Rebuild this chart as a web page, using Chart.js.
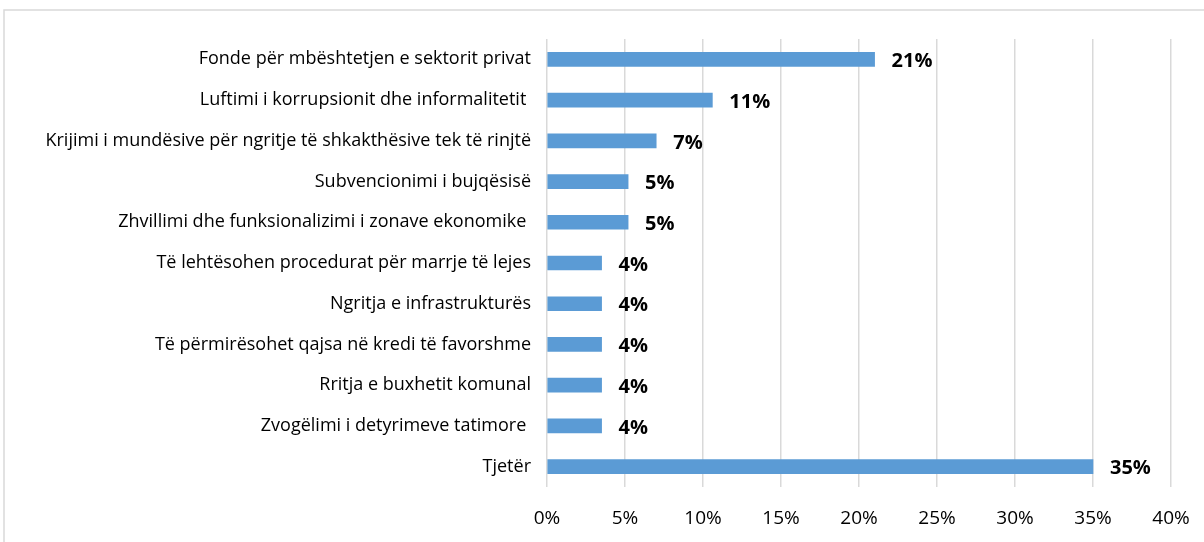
<!DOCTYPE html>
<html>
<head>
<meta charset="utf-8">
<script src="https://cdn.jsdelivr.net/npm/chart.js@4"></script>
<style>
html,body{margin:0;padding:0;background:#fff;}
#wrap{position:relative;width:1204px;height:542px;}
</style>
</head>
<body>
<div id="wrap"><canvas id="c" width="1204" height="542"></canvas></div>
<script>
const categories = [
  "Fonde për mbështetjen e sektorit privat",
  "Luftimi i korrupsionit dhe informalitetit ",
  "Krijimi i mundësive për ngritje të shkakthësive tek të rinjtë",
  "Subvencionimi i bujqësisë",
  "Zhvillimi dhe funksionalizimi i zonave ekonomike ",
  "Të lehtësohen procedurat për marrje të lejes",
  "Ngritja e infrastrukturës",
  "Të përmirësohet qajsa në kredi të favorshme",
  "Rritja e buxhetit komunal",
  "Zvogëlimi i detyrimeve tatimore ",
  "Tjetër"
];
const values = [21.0, 10.6, 7.0, 5.2, 5.2, 3.5, 3.5, 3.5, 3.5, 3.5, 35.0];
const valueLabels = ["21%", "11%", "7%", "5%", "5%", "4%", "4%", "4%", "4%", "4%", "35%"];
const tickValues = [0, 5, 10, 15, 20, 25, 30, 35, 40];

const FONT = "'Open Sans', sans-serif";

const frame = {
  id: 'frame',
  beforeDraw(chart) {
    const ctx = chart.ctx;
    ctx.save();
    ctx.strokeStyle = '#d9d9d9';
    ctx.lineWidth = 1.5;
    ctx.strokeRect(4, 10, 1400, 800);
    ctx.restore();
  }
};

const valueLabelPlugin = {
  id: 'valueLabels',
  afterDatasetsDraw(chart) {
    const ctx = chart.ctx;
    const meta = chart.getDatasetMeta(0);
    ctx.save();
    ctx.font = "bold 20px " + FONT;
    ctx.fillStyle = '#000';
    ctx.textAlign = 'left';
    ctx.textBaseline = 'middle';
    meta.data.forEach((bar, i) => {
      ctx.fillText(valueLabels[i], bar.x + 17, bar.y + 2);
    });
    ctx.restore();
  }
};

new Chart(document.getElementById('c'), {
  type: 'bar',
  data: {
    labels: categories,
    datasets: [{
      data: values,
      backgroundColor: '#5b9bd5',
      borderWidth: 0,
      barThickness: 14
    }]
  },
  options: {
    indexAxis: 'y',
    responsive: false,
    animation: false,
    layout: { padding: { top: 39, right: 33, bottom: 0, left: 0 } },
    plugins: { legend: { display: false }, tooltip: { enabled: false } },
    scales: {
      x: {
        min: 0, max: 40,
        afterBuildTicks(scale) { scale.ticks = tickValues.map(v => ({ value: v })); },
        afterFit(scale) { scale.height = 55; scale.paddingLeft = 0; scale.paddingRight = 0; },
        grid: { color: '#d9d9d9', lineWidth: 1.5, drawTicks: false },
        border: { display: false },
        ticks: {
          padding: 20,
          color: '#000',
          font: { family: FONT, size: 19 },
          callback: v => v + '%'
        }
      },
      y: {
        afterFit(scale) { scale.width = 547; },
        grid: { display: false, drawTicks: false },
        border: { display: false },
        ticks: {
          padding: 16,
          color: '#000',
          font: { family: FONT, size: 18 },
          autoSkip: false
        }
      }
    }
  },
  plugins: [frame, valueLabelPlugin]
});
</script>
</body>
</html>
